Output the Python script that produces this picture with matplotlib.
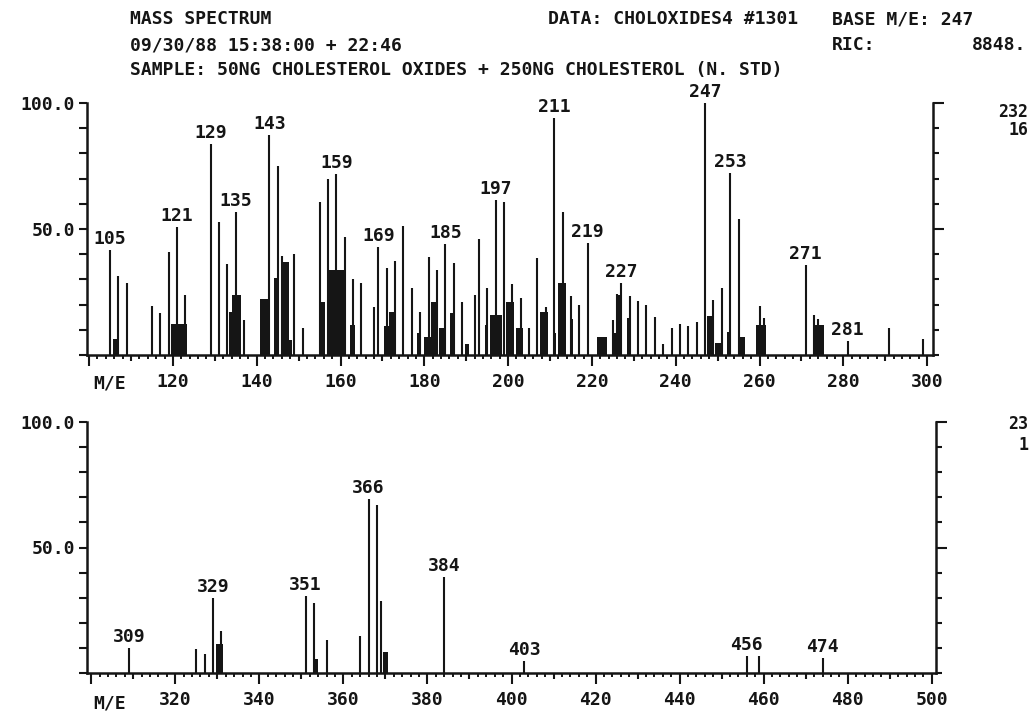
import matplotlib
matplotlib.use('Agg')
import matplotlib.pyplot as plt
from matplotlib.ticker import MultipleLocator, FuncFormatter

plt.rcParams['font.family'] = ['DejaVu Sans Mono', 'DejaVu Sans']
plt.rcParams['font.weight'] = 'bold'

INK = '#151515'
W, H = 1031, 717

# upper trace, m/e 100 - 300  (relative intensity, %)
top_mz = [105, 107, 109, 115, 117, 119, 121, 123, 129, 131, 133, 135, 137,
          143, 145, 146, 147, 149, 151, 155, 157, 159, 161, 163, 165, 168,
          169, 171, 173, 175, 177, 179, 181, 183, 185, 187, 189, 192, 193,
          195, 197, 199, 201, 203, 205, 207, 209, 211, 213, 215, 217, 219,
          225, 226, 227, 229, 231, 233, 235, 237, 239, 241, 243, 245, 247,
          249, 251, 253, 255, 260, 261, 271, 273, 274, 275, 281, 291, 299]
top_int = [41.7, 31.3, 28.7, 19.4, 16.5, 40.7, 50.9, 24.0, 83.6, 52.9, 36.0, 56.6, 13.9,
           87.3, 75.1, 39.3, 36.4, 40.0, 10.6, 60.6, 69.8, 71.7, 46.7, 30.0, 28.4, 18.9,
           42.7, 34.4, 37.3, 51.2, 26.5, 17.2, 39.0, 33.7, 43.9, 36.6, 21.2, 23.8, 45.9,
           26.5, 61.5, 60.8, 28.2, 22.5, 10.6, 38.4, 18.9, 93.9, 56.9, 23.4, 19.8, 44.6,
           13.9, 24.1, 28.4, 23.4, 21.6, 19.8, 15.2, 4.2, 10.6, 12.2, 11.6, 13.2, 100.0,
           21.8, 26.5, 72.1, 53.8, 19.4, 14.8, 35.7, 15.9, 14.3, 11.9, 5.7, 10.8, 6.2]
top_lab = [105, 121, 129, 135, 143, 159, 169, 185, 197, 211, 219, 227, 247, 253, 271, 281]
# unresolved clusters that print as solid blocks (from, to, height)
top_cl_lo = [105.8, 119.5, 133.4, 134.2, 140.9, 144.1, 146.3, 147.7, 155.4, 157.3,
             162.3, 170.3, 171.5, 178.3, 180.0, 181.6, 183.4, 186.2, 189.6, 194.4,
             195.6, 199.6, 202.0, 207.5, 210.6, 211.9, 214.7, 221.1, 224.7, 226.1,
             228.4, 247.4, 249.4, 252.2, 255.4, 259.2, 273.0]
top_cl_hi = [106.6, 123.3, 134.2, 136.2, 142.7, 144.9, 147.7, 148.5, 156.2, 161.3,
             163.5, 171.5, 172.8, 179.2, 181.6, 183.0, 184.8, 187.2, 190.6, 195.2,
             198.6, 201.3, 203.5, 209.5, 211.4, 213.8, 215.5, 223.5, 226.3, 227.1,
             229.1, 249.0, 251.0, 253.0, 256.6, 261.6, 275.5]
top_cl_h = [6.2, 12.2, 17.2, 23.8, 22.2, 30.4, 37.0, 6.0, 20.9, 33.7,
            11.9, 11.6, 16.9, 8.9, 7.0, 21.2, 10.6, 16.5, 4.2, 11.9,
            15.9, 21.2, 10.6, 17.2, 8.6, 28.4, 14.3, 7.0, 8.6, 24.0,
            14.5, 15.6, 4.6, 9.0, 7.3, 12.0, 11.9]

# lower trace, m/e 300 - 500
bot_mz = [309, 325, 327, 329, 331, 351, 353, 356, 364, 366, 368, 369, 384, 403, 456, 459, 474]
bot_int = [9.8, 9.4, 7.4, 29.7, 16.9, 30.7, 28.0, 13.1, 14.9, 69.2, 66.9, 28.8, 38.1, 4.6, 6.8, 6.8, 6.1]
bot_lab = [309, 329, 351, 366, 384, 403, 456, 474]
bot_cl_lo = [329.7, 353.0, 369.5]
bot_cl_hi = [331.3, 354.0, 370.5]
bot_cl_h = [11.4, 5.6, 8.5]

top_xlim = (99.5, 301.4)
bot_xlim = (299.0, 501.0)


def px(x, y):
    return x / W, 1 - y / H


def draw_panel(ax, mz, inten, labels, lo, hi, hh, xlim, first_label):
    ax.vlines(mz, 0, inten, color=INK, lw=1.5)
    ax.bar(lo, hh, width=[b - a for a, b in zip(lo, hi)], align='edge',
           color=INK, lw=0)
    heights = dict(zip(mz, inten))
    for m in labels:
        ax.annotate(str(m), (m, heights[m]), xytext=(0, 1.5), textcoords='offset points',
                    ha='center', va='bottom', fontsize=13, color=INK)

    ax.set_xlim(*xlim)
    ax.set_ylim(0, 100)
    for s in ['top', 'right']:
        ax.spines[s].set_visible(False)
    for s in ['left', 'bottom']:
        ax.spines[s].set_linewidth(1.8)
        ax.spines[s].set_color(INK)

    ax.xaxis.set_major_locator(MultipleLocator(10))
    ax.xaxis.set_minor_locator(MultipleLocator(2))
    ax.xaxis.set_major_formatter(FuncFormatter(
        lambda v, p: f'{v:.0f}' if round(v) % 20 == 0 and v >= first_label else ''))
    ax.tick_params(axis='x', which='major', direction='out', length=8, width=1.5,
                   pad=5, labelsize=13, colors=INK)
    ax.tick_params(axis='x', which='minor', direction='out', length=3, width=1.4, colors=INK)
    for t, loc in zip(ax.xaxis.get_major_ticks(), ax.xaxis.get_majorticklocs()):
        if round(loc) % 20:
            t.tick1line.set_markersize(4.5)

    ax.set_yticks([50, 100])
    ax.yaxis.set_minor_locator(MultipleLocator(10))
    ax.yaxis.set_major_formatter(FuncFormatter(lambda v, p: f'{v:.1f}'))
    ax.tick_params(axis='y', which='both', direction='out', length=5.5, width=1.5,
                   pad=3, labelsize=13, colors=INK)

    sec = ax.secondary_yaxis('right')
    sec.set_yticks([50, 100])
    sec.yaxis.set_minor_locator(MultipleLocator(10))
    sec.tick_params(which='major', direction='out', length=8, width=1.5, labelright=False, colors=INK)
    sec.tick_params(which='minor', direction='out', length=4, width=1.5, colors=INK)
    sec.spines['right'].set_linewidth(1.8)
    sec.spines['right'].set_color(INK)


fig = plt.figure(figsize=(W / 100, H / 100), dpi=100)
ax1 = fig.add_axes([87 / W, (H - 355) / H, 846 / W, 252 / H])
ax2 = fig.add_axes([87 / W, (H - 673) / H, 849 / W, 251 / H])

draw_panel(ax1, top_mz, top_int, top_lab, top_cl_lo, top_cl_hi, top_cl_h, top_xlim, 120)
draw_panel(ax2, bot_mz, bot_int, bot_lab, bot_cl_lo, bot_cl_hi, bot_cl_h, bot_xlim, 320)

hdr = dict(fontsize=13, color=INK, va='center')
fig.text(*px(130, 19), 'MASS SPECTRUM', ha='left', **hdr)
fig.text(*px(130, 45), '09/30/88 15:38:00 + 22:46', ha='left', **hdr)
fig.text(*px(130, 70), 'SAMPLE: 50NG CHOLESTEROL OXIDES + 250NG CHOLESTEROL (N. STD)', ha='left', **hdr)
fig.text(*px(548, 19), 'DATA: CHOLOXIDES4 #1301', ha='left', **hdr)
fig.text(*px(832, 19), 'BASE M/E: 247', ha='left', **hdr)
fig.text(*px(832, 45), 'RIC:', ha='left', **hdr)
fig.text(*px(1026, 45), '8848.', ha='right', **hdr)

fig.text(*px(93, 384), 'M/E', ha='left', **hdr)
fig.text(*px(93, 703), 'M/E', ha='left', **hdr)

side = dict(fontsize=12, color=INK, va='center')
fig.text(*px(1028, 112), '232', ha='right', **side)
fig.text(*px(1028, 130), '16', ha='right', **side)
fig.text(*px(1028, 424), '23', ha='right', **side)
fig.text(*px(1028, 445), '1', ha='right', **side)

fig.savefig('out.png', dpi=100)
